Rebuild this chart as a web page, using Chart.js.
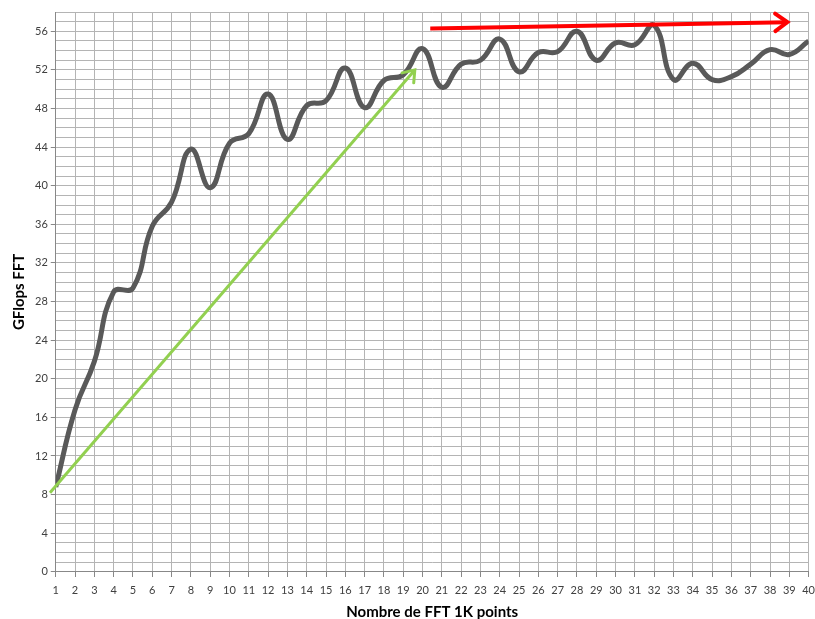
<!DOCTYPE html>
<html lang="fr">
<head>
  <meta charset="UTF-8">
  <title>GFlops FFT</title>
  <script src="https://cdn.jsdelivr.net/npm/chart.js"></script>
  <style>
    body { margin: 0; background: #fff; }
  </style>
</head>
<body>
<canvas id="fftChart" width="815" height="619"></canvas>

<script>
  // number of FFT 1K points (x) and measured GFlops (y)
  const fftPoints = [1, 2, 3, 4, 5, 6, 7, 8, 9, 10, 11, 12, 13, 14, 15, 16, 17, 18, 19, 20,
    21, 22, 23, 24, 25, 26, 27, 28, 29, 30, 31, 32, 33, 34, 35, 36, 37, 38, 39, 40];
  const gflops = [8.8, 16.8, 21.8, 29.0, 29.4, 35.8, 38.3, 43.8, 39.8, 44.4,
    45.4, 49.5, 44.8, 48.3, 48.8, 52.2, 48.1, 50.9, 51.5, 54.2,
    50.2, 52.6, 53.0, 55.2, 51.8, 53.8, 53.9, 56.0, 53.0, 54.8,
    54.6, 56.6, 51.0, 52.7, 51.0, 51.3, 52.6, 54.1, 53.6, 55.0];

  // the two annotation arrows (start, end)
  const greenArrowX = [0.7, 19.6];
  const greenArrowY = [8.2, 52.0];
  const redArrowX = [20.4, 38.9];
  const redArrowY = [56.3, 56.95];

  const yLabelStep = 4;

  const toPoints = (xs, ys) => xs.map((x, i) => ({ x: x, y: ys[i] }));

  // draws an open chevron at the end of datasets flagged with arrowHead
  const arrowHeads = {
    id: 'arrowHeads',
    afterDatasetsDraw(chart) {
      const ctx = chart.ctx;
      chart.data.datasets.forEach((ds, i) => {
        if (!ds.arrowHead) return;
        const pts = chart.getDatasetMeta(i).data;
        const a = pts[pts.length - 2], b = pts[pts.length - 1];
        const ang = Math.atan2(b.y - a.y, b.x - a.x);
        const len = ds.arrowHead;
        ctx.save();
        ctx.strokeStyle = ds.borderColor;
        ctx.lineWidth = ds.borderWidth;
        ctx.lineCap = 'round';
        ctx.lineJoin = 'miter';
        ctx.beginPath();
        ctx.moveTo(b.x - len * Math.cos(ang - Math.PI / 5), b.y - len * Math.sin(ang - Math.PI / 5));
        ctx.lineTo(b.x, b.y);
        ctx.lineTo(b.x - len * Math.cos(ang + Math.PI / 5), b.y - len * Math.sin(ang + Math.PI / 5));
        ctx.stroke();
        ctx.restore();
      });
    }
  };

  const ctx = document.getElementById('fftChart').getContext('2d');

  new Chart(ctx, {
    type: 'line',
    data: {
      datasets: [
        {
          label: 'Arrow up',
          data: toPoints(greenArrowX, greenArrowY),
          borderColor: '#92d050',
          borderWidth: 3,
          pointRadius: 0,
          tension: 0,
          clip: false,
          arrowHead: 13
        },
        {
          label: 'Plateau',
          data: toPoints(redArrowX, redArrowY),
          borderColor: '#ff0000',
          borderWidth: 4,
          pointRadius: 0,
          tension: 0,
          clip: false,
          arrowHead: 15
        },
        {
          label: 'GFlops FFT',
          data: toPoints(fftPoints, gflops),
          borderColor: '#595959',
          borderWidth: 5,
          pointRadius: 0,
          tension: 0.45,
          cubicInterpolationMode: 'default'
        }
      ]
    },
    options: {
      responsive: false,
      animation: false,
      layout: { padding: { top: 12, right: 0, bottom: -3, left: 10 } },
      plugins: {
        legend: { display: false },
        tooltip: { enabled: false }
      },
      scales: {
        x: {
          type: 'linear',
          min: 1,
          max: 40,
          ticks: {
            stepSize: 1,
            autoSkip: false,
            maxRotation: 0,
            padding: 0,
            color: '#404040',
            font: { family: 'Lato', size: 11 }
          },
          // long tick slot, but only the first 5px of each tick mark is drawn
          grid: { color: '#b4b4b4', tickColor: '#888', tickLength: 12, tickBorderDash: [5, 30] },
          border: { color: '#888' },
          title: {
            display: true,
            text: 'Nombre de FFT 1K points',
            color: '#000',
            font: { family: 'Lato', size: 15, weight: 'bold' },
            padding: { top: 6, bottom: 1 }
          }
        },
        y: {
          min: 0,
          max: 58,
          ticks: {
            stepSize: 1,
            autoSkip: false,
            color: '#404040',
            font: { family: 'Lato', size: 11 },
            callback: v => (v % yLabelStep === 0 ? v : '')
          },
          grid: {
            color: '#b4b4b4',
            tickLength: 5,
            tickColor: c => (c.tick && c.tick.value % yLabelStep === 0 ? '#888' : 'rgba(0,0,0,0)')
          },
          border: { color: '#888' },
          title: {
            display: true,
            text: 'GFlops FFT',
            color: '#000',
            font: { family: 'Lato', size: 15, weight: 'bold' },
            padding: { top: 0, bottom: 4 }
          }
        }
      }
    },
    plugins: [arrowHeads]
  });
</script>
</body>
</html>
